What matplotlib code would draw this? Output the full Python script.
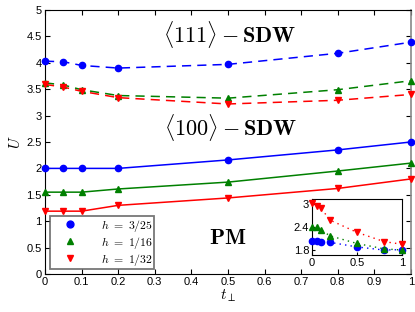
import matplotlib
matplotlib.use('Agg')
import matplotlib.pyplot as plt

plt.rcParams['font.family'] = ['Liberation Sans', 'DejaVu Sans']
plt.rcParams['mathtext.fontset'] = 'cm'

# t_perp values
t = [0, 0.05, 0.1, 0.2, 0.5, 0.8, 1.0]

# <111> SDW boundary (dashed)
sdw111_h325 = [4.03, 4.02, 3.95, 3.90, 3.97, 4.18, 4.39]
sdw111_h116 = [3.62, 3.58, 3.49, 3.38, 3.33, 3.49, 3.66]
sdw111_h132 = [3.59, 3.54, 3.46, 3.34, 3.22, 3.29, 3.40]

# <100> SDW boundary (solid)
sdw100_h325 = [2.00, 2.00, 2.00, 2.00, 2.16, 2.35, 2.50]
sdw100_h116 = [1.55, 1.55, 1.55, 1.61, 1.74, 1.95, 2.10]
sdw100_h132 = [1.19, 1.19, 1.19, 1.30, 1.44, 1.62, 1.80]

# inset values
ins_h325 = [2.04, 2.04, 2.02, 2.00, 1.88, 1.80, 1.81]
ins_h116 = [2.39, 2.39, 2.32, 2.17, 1.97, 1.83, 1.80]
ins_h132 = [3.02, 2.96, 2.89, 2.58, 2.26, 2.02, 1.95]

labels = [r'$h\ =\ 3/25$', r'$h\ =\ 1/16$', r'$h\ =\ 1/32$']
colors = ['#0000ff', '#008000', '#ff0000']
markers = ['o', '^', 'v']

fig = plt.figure(figsize=(4.15, 3.12), dpi=100)
ax = fig.add_axes([0.1084, 0.1218, 0.8816, 0.8462])

dash111 = [sdw111_h325, sdw111_h116, sdw111_h132]
solid100 = [sdw100_h325, sdw100_h116, sdw100_h132]
for i in range(3):
    ax.plot(t, dash111[i], color=colors[i], marker=markers[i], ms=4.5,
            lw=1.1, dashes=(6, 4), clip_on=False, zorder=3)
    ax.plot(t, solid100[i], color=colors[i], marker=markers[i], ms=4.5,
            lw=1.1, label=labels[i], clip_on=False, zorder=3)

ax.set_xlim(0, 1)
ax.set_ylim(0, 5)
ax.set_xticks([0, 0.1, 0.2, 0.3, 0.4, 0.5, 0.6, 0.7, 0.8, 0.9, 1])
ax.set_xticklabels(['0', '0.1', '0.2', '0.3', '0.4', '0.5', '0.6', '0.7', '0.8', '0.9', '1'])
ax.set_yticks([0, 0.5, 1, 1.5, 2, 2.5, 3, 3.5, 4, 4.5, 5])
ax.set_yticklabels(['0', '0.5', '1', '1.5', '2', '2.5', '3', '3.5', '4', '4.5', '5'])
ax.tick_params(direction='in', top=True, right=True, labelsize=8, length=3.5, pad=2.5)
ax.spines['right'].set_color('#888888')
ax.spines['right'].set_linewidth(1.2)
ax.set_xlabel(r'$t_\perp$', fontsize=11, labelpad=0)
ax.set_ylabel(r'$U$', fontsize=11, labelpad=2)

ax.text(0.505, 4.53, r'$\langle 111\rangle - \mathbf{SDW}$', fontsize=16,
        ha='center', va='center')
ax.text(0.508, 2.77, r'$\langle 100\rangle - \mathbf{SDW}$', fontsize=16,
        ha='center', va='center')
ax.text(0.5, 0.68, r'$\mathbf{PM}$', fontsize=16, ha='center', va='center')

leg = ax.legend(loc='upper left', bbox_to_anchor=(0.013, 0.218), fontsize=8.5,
                fancybox=False, edgecolor='#555555', handlelength=3.2,
                borderpad=0.1, labelspacing=0.08, handletextpad=1.0,
                borderaxespad=0, markerscale=1.1)
leg.get_frame().set_linewidth(1.3)
for h in leg.legend_handles:
    h.set_linestyle('none')

# inset
axi = fig.add_axes([312 / 415, 1 - 255 / 312, 90 / 415, 56 / 312])
ins = [ins_h325, ins_h116, ins_h132]
for i in range(3):
    axi.plot(t, ins[i], color=colors[i], marker=markers[i], ms=4.5,
             lw=1.0, ls=(0, (1, 3)), clip_on=False, zorder=3)
axi.set_xlim(0, 1)
axi.set_ylim(1.67, 3.13)
axi.set_xticks([0, 0.5, 1])
axi.set_xticklabels(['0', '0.5', '1'])
axi.set_yticks([1.8, 2.4, 3])
axi.set_yticklabels(['1.8', '2.4', '3'])
axi.tick_params(direction='in', labelsize=8, length=2.5, pad=2)

fig.savefig('out.png', dpi=100)
